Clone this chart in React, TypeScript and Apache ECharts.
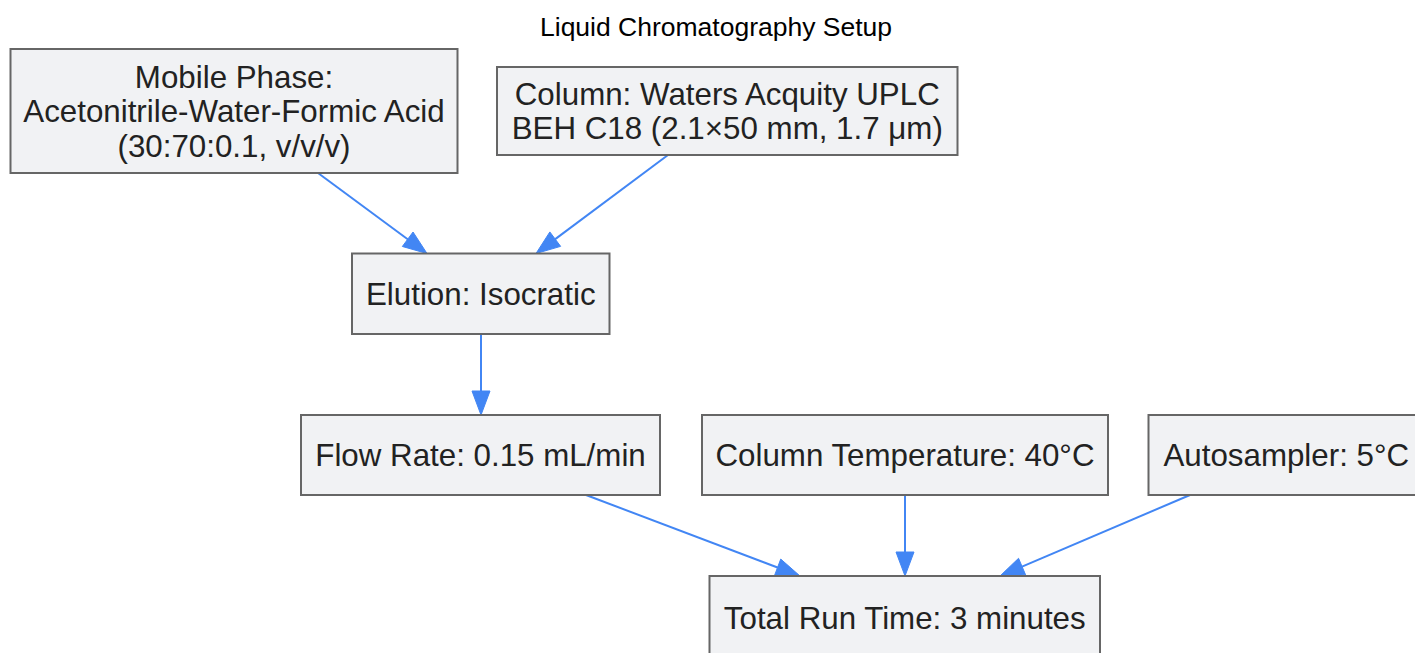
import React, { useEffect, useRef } from "react";
import * as echarts from "echarts";

const titleText = "Liquid Chromatography Setup";

const nodeLabels: string[] = [
  "Mobile Phase:\nAcetonitrile-Water-Formic Acid\n(30:70:0.1, v/v/v)",
  "Column: Waters Acquity UPLC\nBEH C18 (2.1×50 mm, 1.7 μm)",
  "Elution: Isocratic",
  "Flow Rate: 0.15 mL/min",
  "Column Temperature: 40°C",
  "Autosampler: 5°C",
  "Total Run Time: 3 minutes",
];

// layout: [left, top, right, bottom] of each box, in page pixels
const nodeBoxes: number[][] = [
  [10.5, 49, 457.5, 173],
  [497, 67, 957.5, 155],
  [352, 253.5, 609.5, 334],
  [301, 415, 660, 495],
  [702, 415, 1108, 495],
  [1148.5, 415, 1424, 495],
  [709.5, 576, 1100, 658],
];

// edges: source index, target index
const edgeSource: number[] = [0, 1, 2, 3, 4, 5];
const edgeTarget: number[] = [2, 2, 3, 6, 6, 6];
// anchor x positions on source bottom / target top
const edgeStartX: number[] = [318, 668, 481, 586, 905, 1190];
const edgeEndX: number[] = [427, 536, 481, 800, 905, 1000];

const W = 1415;
const H = 653;
const FONT = '"Liberation Sans", Arial, Helvetica, sans-serif';
const EDGE_COLOR = "#4286f4";

export default function App() {
  const ref = useRef<HTMLDivElement>(null);
  useEffect(() => {
    if (!ref.current) return;
    const chart = echarts.init(ref.current, null, { renderer: "svg" });

    const nodeData = nodeLabels.map((label, i) => {
      const b = nodeBoxes[i];
      return { value: [b[0], b[1], b[2], b[3]], label };
    });
    const edgeData = edgeSource.map((s, i) => {
      const t = edgeTarget[i];
      return [edgeStartX[i], nodeBoxes[s][3], edgeEndX[i], nodeBoxes[t][1]];
    });

    chart.setOption({
      animation: false,
      title: {
        text: titleText,
        left: 535,
        top: 8,
        textStyle: { fontFamily: FONT, fontSize: 26.5, fontWeight: "normal", color: "#000" },
      },
      grid: { left: 0, right: 0, top: 0, bottom: 0 },
      xAxis: { type: "value", min: 0, max: W, show: false },
      yAxis: { type: "value", min: 0, max: H, inverse: true, show: false },
      series: [
        {
          type: "custom",
          coordinateSystem: "cartesian2d",
          data: edgeData,
          z: 1,
          renderItem: (params: any, api: any) => {
            const p1 = api.coord([api.value(0), api.value(1)]);
            const p2 = api.coord([api.value(2), api.value(3)]);
            const dx = p2[0] - p1[0];
            const dy = p2[1] - p1[1];
            const len = Math.sqrt(dx * dx + dy * dy);
            const ux = dx / len;
            const uy = dy / len;
            const aL = 24;
            const aW = 9;
            const bx = p2[0] - ux * aL;
            const by = p2[1] - uy * aL;
            return {
              type: "group",
              children: [
                {
                  type: "line",
                  shape: { x1: p1[0], y1: p1[1], x2: bx, y2: by },
                  style: { stroke: EDGE_COLOR, lineWidth: 2 },
                },
                {
                  type: "polygon",
                  shape: {
                    points: [
                      [p2[0], p2[1]],
                      [bx - uy * aW, by + ux * aW],
                      [bx + uy * aW, by - ux * aW],
                    ],
                  },
                  style: { fill: EDGE_COLOR, stroke: EDGE_COLOR, lineWidth: 1 },
                },
              ],
            };
          },
        },
        {
          type: "custom",
          coordinateSystem: "cartesian2d",
          data: nodeData,
          z: 2,
          renderItem: (params: any, api: any) => {
            const p1 = api.coord([api.value(0), api.value(1)]);
            const p2 = api.coord([api.value(2), api.value(3)]);
            const label = nodeLabels[params.dataIndex];
            return {
              type: "group",
              children: [
                {
                  type: "rect",
                  shape: { x: p1[0], y: p1[1], width: p2[0] - p1[0], height: p2[1] - p1[1] },
                  style: { fill: "#f1f2f4", stroke: "#666666", lineWidth: 2 },
                },
                {
                  type: "text",
                  x: (p1[0] + p2[0]) / 2,
                  y: params.dataIndex === 6 ? p1[1] + 42.5 : (p1[1] + p2[1]) / 2 + 0.5,
                  style: {
                    text: label,
                    fontFamily: FONT,
                    fontSize: 31.3,
                    lineHeight: 34.5,
                    fill: "#222222",
                    align: "center",
                    verticalAlign: "middle",
                  },
                },
              ],
            };
          },
        },
      ],
    });
    return () => chart.dispose();
  }, []);
  return (
    <div
      ref={ref}
      style={{ position: "fixed", left: 0, top: 0, width: W, height: H, background: "#fff" }}
    />
  );
}
